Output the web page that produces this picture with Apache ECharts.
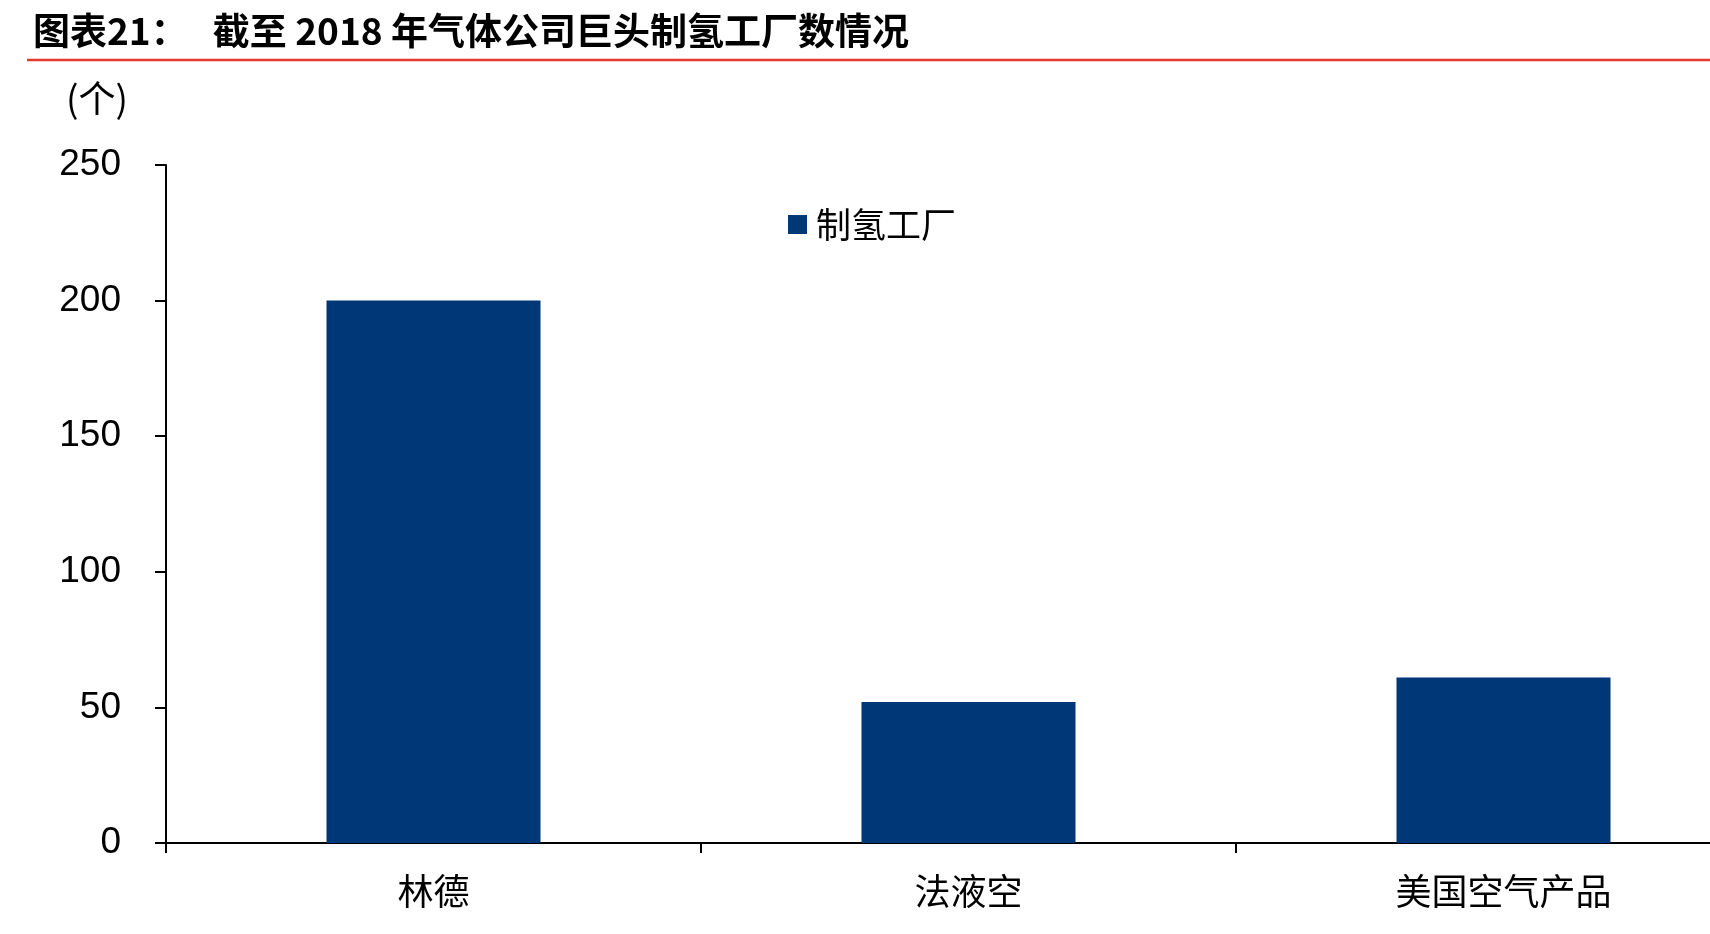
<!DOCTYPE html>
<html>
<head>
<meta charset="utf-8">
<script src="https://cdn.jsdelivr.net/npm/echarts@6/dist/echarts.min.js"></script>
<style>
html,body{margin:0;padding:0;background:#fff;}
#chart{width:1710px;height:934px;}
</style>
</head>
<body>
<div id="chart"></div>
<script>
const titleText = '图表21：   截至 2018 年气体公司巨头制氢工厂数情况';
const unitLabel = '(个)';
const categories = ['林德', '法液空', '美国空气产品'];
const seriesName = '制氢工厂';
const plantCounts = [200, 52, 61];
const yTicks = { min: 0, max: 250, interval: 50 };

const FONT = '"Liberation Sans", "Noto Sans CJK SC", sans-serif';
const CJK = '"Noto Sans CJK SC", "Liberation Sans", sans-serif';

const chart = echarts.init(document.getElementById('chart'), null, { renderer: 'canvas' });
chart.setOption({
  animation: false,
  backgroundColor: '#ffffff',
  title: {
    text: titleText,
    left: 33,
    top: 12,
    padding: 0,
    textStyle: { fontSize: 37, fontWeight: 'bold', color: '#000', fontFamily: CJK }
  },
  graphic: [
    { type: 'line', shape: { x1: 27, y1: 60, x2: 1710, y2: 60 }, style: { stroke: '#e3372e', lineWidth: 2.5 } },
    { type: 'text', left: 66, top: 80, style: { text: unitLabel, fontSize: 37, fill: '#000', fontFamily: CJK } }
  ],
  legend: {
    data: [seriesName],
    left: 783,
    top: 202,
    icon: 'rect',
    itemWidth: 19,
    itemHeight: 19,
    textStyle: { fontSize: 35, color: '#000', fontFamily: CJK, padding: [0, 0, 0, 4] }
  },
  grid: { left: 166, top: 165, width: 1605, bottom: 91, containLabel: false, outerBoundsMode: 'none' },
  xAxis: {
    type: 'category',
    data: categories,
    axisLine: { lineStyle: { color: '#000', width: 2 } },
    axisTick: { show: true, length: 10, lineStyle: { color: '#000', width: 2 } },
    axisLabel: { margin: 30, fontSize: 36, color: '#000', fontFamily: CJK }
  },
  yAxis: {
    type: 'value',
    min: yTicks.min,
    max: yTicks.max,
    interval: yTicks.interval,
    axisLine: { show: true, lineStyle: { color: '#000', width: 2 } },
    axisTick: { show: true, length: 11, lineStyle: { color: '#000', width: 2 } },
    splitLine: { show: false },
    axisLabel: { margin: 45, fontSize: 37, color: '#000', fontFamily: FONT }
  },
  series: [{
    name: seriesName,
    type: 'bar',
    data: plantCounts,
    barWidth: '40%',
    itemStyle: { color: '#003776' }
  }]
});
</script>
</body>
</html>
